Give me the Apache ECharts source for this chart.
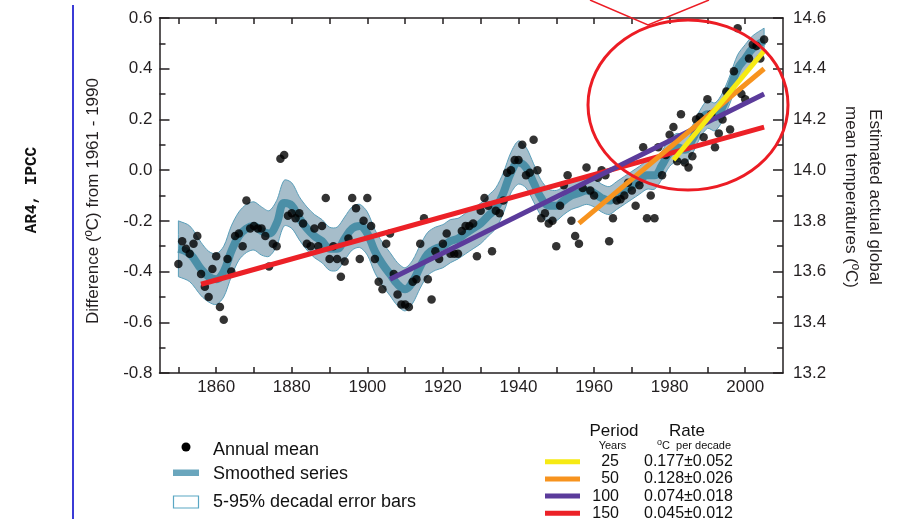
<!DOCTYPE html>
<html><head><meta charset="utf-8">
<script src="https://cdn.jsdelivr.net/npm/echarts@6/dist/echarts.min.js"></script>
<style>html,body{margin:0;padding:0;background:#fff}#c{width:908px;height:519px}</style>
</head><body><div id="c"></div>
<script>
// ---- data ----
const startYear = 1850;
const annualMean = [
  -0.37,-0.28,-0.31,-0.33,-0.29,-0.26,-0.41,-0.46,-0.50,-0.39,
  -0.34,-0.54,-0.59,-0.35,-0.40,-0.26,-0.25,-0.30,-0.12,-0.23,
  -0.22,-0.23,-0.23,-0.26,-0.38,-0.29,-0.30,0.045,0.06,-0.18,
  -0.17,-0.19,-0.17,-0.21,-0.29,-0.30,-0.23,-0.30,-0.22,-0.11,
  -0.35,-0.30,-0.35,-0.42,-0.36,-0.27,-0.11,-0.15,-0.35,-0.20,
  -0.11,-0.22,-0.35,-0.44,-0.47,-0.29,-0.25,-0.41,-0.49,-0.53,
  -0.53,-0.54,-0.44,-0.43,-0.29,-0.19,-0.43,-0.51,-0.32,-0.35,
  -0.29,-0.25,-0.33,-0.33,-0.33,-0.24,-0.22,-0.22,-0.21,-0.34,
  -0.16,-0.11,-0.14,-0.32,-0.16,-0.17,-0.12,-0.01,0.00,0.04,
  0.04,0.10,-0.02,-0.01,0.12,0.00,-0.19,-0.17,-0.21,-0.20,
  -0.30,-0.14,-0.06,-0.02,-0.20,-0.26,-0.29,-0.07,0.01,-0.08,
  -0.10,-0.03,0.00,-0.02,-0.28,-0.19,-0.12,-0.115,-0.10,-0.05,
  -0.08,-0.14,-0.06,0.09,-0.19,-0.10,-0.19,0.09,-0.02,0.06,
  0.14,0.17,0.035,0.22,0.03,0.01,0.055,0.20,0.21,0.13,
  0.28,0.22,0.09,0.145,0.20,0.31,0.16,0.39,0.56,0.30,
  0.28,0.44,0.495,0.49,0.44,0.515
];
const smoothYears = [1850,1853,1856,1858,1860,1862,1864,1866,1868,1870,1872,1874,1876,1878,1880,1882,1884,1886,1888,1890,1892,1894,1896,1898,1900,1902,1904,1906,1908,1910,1912,1914,1916,1918,1920,1922,1924,1926,1928,1930,1932,1934,1936,1938,1940,1942,1944,1946,1948,1950,1952,1954,1956,1958,1960,1962,1964,1966,1968,1970,1972,1974,1976,1978,1980,1982,1984,1986,1988,1990,1992,1994,1996,1998,2000,2002,2005];
const smoothValues = [-0.31,-0.33,-0.39,-0.42,-0.43,-0.40,-0.32,-0.26,-0.23,-0.22,-0.24,-0.25,-0.21,-0.13,-0.14,-0.19,-0.23,-0.26,-0.28,-0.31,-0.31,-0.27,-0.23,-0.22,-0.25,-0.32,-0.37,-0.41,-0.45,-0.47,-0.44,-0.38,-0.33,-0.31,-0.30,-0.28,-0.27,-0.25,-0.23,-0.21,-0.18,-0.15,-0.09,-0.01,0.03,0.01,-0.05,-0.11,-0.14,-0.14,-0.12,-0.10,-0.09,-0.08,-0.09,-0.11,-0.12,-0.10,-0.08,-0.06,-0.04,-0.02,-0.02,0.02,0.07,0.09,0.08,0.12,0.18,0.22,0.21,0.25,0.32,0.40,0.44,0.48,0.51];
const bandUpper = [-0.20,-0.22,-0.285,-0.32,-0.33,-0.30,-0.22,-0.165,-0.135,-0.125,-0.145,-0.16,-0.12,-0.04,-0.05,-0.105,-0.145,-0.175,-0.195,-0.225,-0.225,-0.185,-0.145,-0.135,-0.165,-0.235,-0.285,-0.325,-0.365,-0.385,-0.355,-0.295,-0.245,-0.225,-0.215,-0.195,-0.19,-0.17,-0.15,-0.13,-0.10,-0.07,-0.01,0.07,0.115,0.09,0.025,-0.04,-0.075,-0.08,-0.065,-0.045,-0.035,-0.025,-0.035,-0.055,-0.065,-0.045,-0.025,-0.005,0.015,0.035,0.035,0.075,0.125,0.145,0.135,0.175,0.235,0.275,0.265,0.305,0.375,0.455,0.495,0.53,0.56];
const bandLower = [-0.42,-0.44,-0.495,-0.52,-0.53,-0.50,-0.42,-0.355,-0.325,-0.315,-0.335,-0.34,-0.30,-0.22,-0.23,-0.275,-0.315,-0.345,-0.365,-0.395,-0.395,-0.355,-0.315,-0.305,-0.335,-0.405,-0.455,-0.495,-0.535,-0.555,-0.525,-0.465,-0.415,-0.395,-0.385,-0.365,-0.35,-0.33,-0.31,-0.29,-0.26,-0.23,-0.17,-0.09,-0.055,-0.07,-0.125,-0.18,-0.205,-0.20,-0.175,-0.155,-0.145,-0.135,-0.145,-0.165,-0.175,-0.155,-0.135,-0.115,-0.095,-0.075,-0.075,-0.035,0.015,0.035,0.025,0.065,0.125,0.165,0.155,0.195,0.265,0.345,0.385,0.43,0.46];
const trendPeriods = ['25','50','100','150'];
const trendRates = ['0.177\u00b10.052','0.128\u00b10.026','0.074\u00b10.018','0.045\u00b10.012'];
const trendStart = [[1981,0.04],[1956,-0.21],[1906,-0.43],[1856,-0.45]];
const trendEnd = [[2005,0.47],[2005,0.40],[2005,0.30],[2005,0.17]];
const xLabelYears = [1860,1880,1900,1920,1940,1960,1980,2000];
const xTickYears = [1850,1860,1870,1880,1890,1900,1910,1920,1930,1940,1950,1960,1970,1980,1990,2000];

// ---- styles ----
const trendColors = ['#f6ea14','#f7931e','#5b3b9b','#ec2127'];
const axisColor = '#231f20';
const FONT = 'Liberation Sans, Arial, sans-serif';

const chart = echarts.init(document.getElementById('c'), null, {renderer:'canvas'});

const annualData = annualMean.map((v,i)=>[startYear+i, v]);
const smoothData = smoothYears.map((y,i)=>[y, smoothValues[i]]);

const axLine = {show:true, onZero:false, lineStyle:{color:axisColor, width:1.5}};
const fmt1 = v => (Math.abs(v)<1e-9 ? '0.0' : v.toFixed(1));

const series = [
  {type:'custom', silent:true, z:1, data:[0],
   renderItem:function(params, api){
     const up = smoothYears.map((y,i)=>api.coord([y, bandUpper[i]]));
     const lo = smoothYears.map((y,i)=>api.coord([y, bandLower[i]])).reverse();
     // repeat the four corner points so the smoothed outline keeps square ends
     const pts = [up[0]].concat(up, [up[up.length-1]], [lo[0]], lo, [lo[lo.length-1]]);
     return {type:'polygon', shape:{points:pts, smooth:0.3},
             style:{fill:'#a6bdca', stroke:'#5a9fba', lineWidth:1}};
   }},
  {type:'line', data:smoothData, smooth:0.4, symbol:'none', silent:true,
   lineStyle:{color:'#4b8fa7', width:8}, z:2},
  {type:'scatter', data:annualData, symbol:'circle', symbolSize:8.5,
   itemStyle:{color:'#000'}, z:3}
];
trendPeriods.forEach((p,i)=>{
  series.push({type:'line', data:[trendStart[i], trendEnd[i]], symbol:'none', silent:true,
    lineStyle:{color:trendColors[i], width:5, cap:'butt'}, z:4 + (3-i)});
});

const graphics = [
  {type:'line', shape:{x1:73, y1:5, x2:73, y2:519}, style:{stroke:'#3b3bd6', lineWidth:2}},
  {type:'text', x:32, y:190, rotation:Math.PI/2,
   style:{text:'AR4, IPCC', font:'bold 16px "Liberation Mono", monospace', fill:'#111', align:'center', verticalAlign:'middle'}},
  {type:'text', x:93, y:201, rotation:Math.PI/2,
   style:{text:'Difference (\u00baC) from 1961 - 1990', font:'17px ' + FONT, fill:axisColor, align:'center', verticalAlign:'middle'}},
  {type:'text', x:863, y:197, rotation:-Math.PI/2,
   style:{text:'Estimated actual global\nmean temperatures (\u00baC)', font:'17px ' + FONT, lineHeight:24, fill:axisColor, align:'center', verticalAlign:'middle'}},
  {type:'ellipse', shape:{cx:688, cy:105, rx:100, ry:85}, style:{fill:'none', stroke:'#ec1c24', lineWidth:3}, z:100},
  {type:'polyline', shape:{points:[[590,0],[648,25],[709,0]]}, style:{fill:'none', stroke:'#ec1c24', lineWidth:1.5}, z:100},
  // left legend
  {type:'circle', shape:{cx:186, cy:447, r:4.5}, style:{fill:'#000'}},
  {type:'text', x:213, y:450, style:{text:'Annual mean', font:'18px ' + FONT, fill:'#111', verticalAlign:'middle'}},
  {type:'rect', shape:{x:173, y:469.5, width:26, height:6.5}, style:{fill:'#6aa6bd'}},
  {type:'text', x:213, y:474.5, style:{text:'Smoothed series', font:'18px ' + FONT, fill:'#111', verticalAlign:'middle'}},
  {type:'rect', shape:{x:173.5, y:496, width:25, height:12}, style:{fill:'#fff', stroke:'#5aa7c4', lineWidth:1.2}},
  {type:'text', x:213, y:502, style:{text:'5-95% decadal error bars', font:'18px ' + FONT, fill:'#111', verticalAlign:'middle'}},
  // right legend header
  {type:'text', x:614, y:431, style:{text:'Period', font:'17px ' + FONT, fill:'#111', align:'center', verticalAlign:'middle'}},
  {type:'text', x:687, y:431, style:{text:'Rate', font:'17px ' + FONT, fill:'#111', align:'center', verticalAlign:'middle'}},
  {type:'text', x:612.5, y:446, style:{text:'Years', font:'11px ' + FONT, fill:'#111', align:'center', verticalAlign:'middle'}},
  {type:'text', x:657, y:446, style:{text:'{s|o}C  per decade', fill:'#111', verticalAlign:'middle',
     rich:{s:{fontSize:9, fontFamily:FONT, verticalAlign:'top', padding:[0,0,6,0]}}, font:'11px ' + FONT}}
];
trendPeriods.forEach((p,i)=>{
  const y = 461.7 + i*17.2;
  graphics.push({type:'line', shape:{x1:545, y1:y, x2:580, y2:y}, style:{stroke:trendColors[i], lineWidth:5}});
  graphics.push({type:'text', x:619, y:y, style:{text:p, font:'16px ' + FONT, fill:'#111', align:'right', verticalAlign:'middle'}});
  graphics.push({type:'text', x:644, y:y, style:{text:trendRates[i], font:'16px ' + FONT, fill:'#111', align:'left', verticalAlign:'middle'}});
});

chart.setOption({
  animation:false,
  backgroundColor:'#fff',
  grid:{left:159.5, right:125, top:18, bottom:146, containLabel:false},
  xAxis:[
    {type:'value', min:1845, max:2010, position:'bottom', axisLine:axLine,
     axisTick:{show:true, inside:true, length:6, customValues:xTickYears, lineStyle:{color:axisColor, width:1.5}},
     axisLabel:{show:true, customValues:xLabelYears, formatter:v=>String(v), fontSize:17, fontFamily:FONT, color:axisColor, margin:6},
     splitLine:{show:false}},
    {type:'value', min:1845, max:2010, position:'top', axisLine:axLine,
     axisTick:{show:true, inside:true, length:6, customValues:xTickYears, lineStyle:{color:axisColor, width:1.5}},
     axisLabel:{show:false}, splitLine:{show:false}}
  ],
  yAxis:[
    {type:'value', min:-0.8, max:0.6, interval:0.2, position:'left', axisLine:axLine,
     axisTick:{show:true, inside:true, length:10, lineStyle:{color:axisColor, width:1.5}},
     minorTick:{show:true, splitNumber:2, length:6, lineStyle:{color:axisColor, width:1.5}},
     axisLabel:{formatter:fmt1, fontSize:17, fontFamily:FONT, color:axisColor, margin:7},
     splitLine:{show:false}, minorSplitLine:{show:false}},
    {type:'value', min:13.2, max:14.6, interval:0.2, position:'right', axisLine:axLine,
     axisTick:{show:true, inside:true, length:10, lineStyle:{color:axisColor, width:1.5}},
     minorTick:{show:true, splitNumber:2, length:6, lineStyle:{color:axisColor, width:1.5}},
     axisLabel:{formatter:fmt1, fontSize:17, fontFamily:FONT, color:axisColor, margin:10},
     splitLine:{show:false}, minorSplitLine:{show:false}}
  ],
  series:series,
  graphic:graphics
});
</script></body></html>
